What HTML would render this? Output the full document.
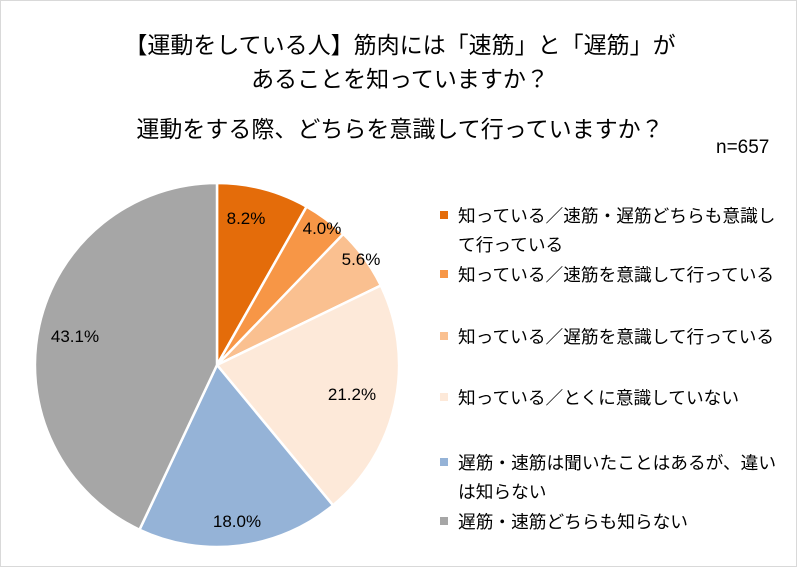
<!DOCTYPE html>
<html><head><meta charset="utf-8"><style>
body{margin:0;background:#fff}
svg text{font-family:"Liberation Sans","Noto Sans CJK JP",sans-serif;fill:#000}
</style></head><body>
<svg width="800" height="568" viewBox="0 0 800 568" xmlns="http://www.w3.org/2000/svg">
<rect x="0.5" y="0.5" width="796" height="566" fill="#fff" stroke="#d9d9d9"/>
<g font-size="23" text-anchor="middle">
<text x="400" y="53">【運動をしている人】筋肉には「速筋」と「遅筋」が</text>
<text x="400" y="87">あることを知っていますか？</text>
<text x="400" y="137">運動をする際、どちらを意識して行っていますか？</text>
</g>
<text x="716" y="153" font-size="19">n=657</text>
<g stroke="#fff" stroke-width="2.5">
<path d="M217,365 L217,183 A182,182 0 0 1 306.6,206.6 Z" fill="#E46C0A"/>
<path d="M217,365 L306.6,206.6 A182,182 0 0 1 343.3,234.0 Z" fill="#F79646"/>
<path d="M217,365 L343.3,234.0 A182,182 0 0 1 380.8,285.5 Z" fill="#FAC090"/>
<path d="M217,365 L380.8,285.5 A182,182 0 0 1 333.0,505.3 Z" fill="#FDE9D9"/>
<path d="M217,365 L333.0,505.3 A182,182 0 0 1 139.5,529.7 Z" fill="#95B3D7"/>
<path d="M217,365 L139.5,529.7 A182,182 0 0 1 217,183 Z" fill="#A6A6A6"/>
</g>
<g font-size="17" text-anchor="middle">
<text x="246" y="224">8.2%</text>
<text x="322" y="234">4.0%</text>
<text x="361" y="265">5.6%</text>
<text x="352" y="400">21.2%</text>
<text x="237" y="527">18.0%</text>
<text x="75" y="342">43.1%</text>
</g>
<g font-size="17.7">
<rect x="440" y="211" width="8" height="8" fill="#E46C0A"/>
<text x="458" y="222">知っている／速筋・遅筋どちらも意識し</text>
<text x="458" y="251">て行っている</text>
<rect x="440" y="270" width="8" height="8" fill="#F79646"/>
<text x="458" y="281">知っている／速筋を意識して行っている</text>
<rect x="440" y="332" width="8" height="8" fill="#FAC090"/>
<text x="458" y="343">知っている／遅筋を意識して行っている</text>
<rect x="440" y="393" width="8" height="8" fill="#FDE9D9"/>
<text x="458" y="404">知っている／とくに意識していない</text>
<rect x="440" y="458" width="8" height="8" fill="#95B3D7"/>
<text x="458" y="469">遅筋・速筋は聞いたことはあるが、違い</text>
<text x="458" y="498">は知らない</text>
<rect x="440" y="517" width="8" height="8" fill="#A6A6A6"/>
<text x="458" y="528">遅筋・速筋どちらも知らない</text>
</g>
</svg>
</body></html>
